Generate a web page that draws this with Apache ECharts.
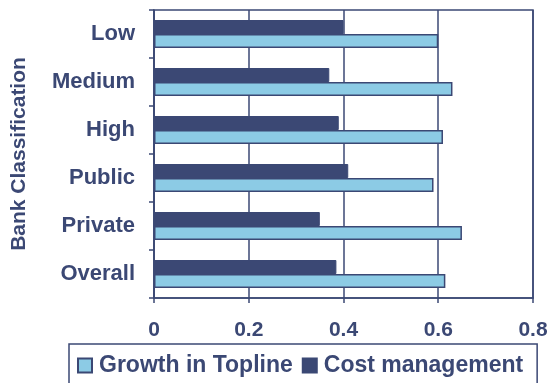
<!DOCTYPE html>
<html>
<head>
<meta charset="utf-8">
<script src="https://cdn.jsdelivr.net/npm/echarts@6/dist/echarts.min.js"></script>
<style>
  html, body { margin: 0; padding: 0; background: #ffffff; }
  #chart { width: 547px; height: 383px; }
</style>
</head>
<body>
<div id="chart"></div>
<script>
// Bank classification groups, top to bottom
const categories = ['Low', 'Medium', 'High', 'Public', 'Private', 'Overall'];
// Share of each driver per group
const growthTopline = [0.60, 0.63, 0.61, 0.59, 0.65, 0.615];
const costManagement = [0.40, 0.37, 0.39, 0.41, 0.35, 0.385];
// Value axis ticks
const xTicks = [0, 0.2, 0.4, 0.6, 0.8];

const NAVY = '#3b4874';
const SKY = '#8ccbe5';
const FONT = 'Arial, "Liberation Sans", sans-serif';

const chart = echarts.init(document.getElementById('chart'), null, { renderer: 'canvas' });

chart.setOption({
  backgroundColor: '#ffffff',
  animation: false,
  textStyle: { fontFamily: FONT, color: NAVY },
  grid: {
    left: 154, right: 14, top: 10, bottom: 85,
    outerBoundsMode: 'none',
    containLabel: false,
    show: true, borderColor: NAVY, borderWidth: 1.5
  },
  legend: {
    data: ['Growth in Topline', 'Cost management'],
    icon: 'rect',
    left: 69, top: 344,
    orient: 'horizontal',
    padding: [10, 14, 30, 8],
    itemGap: 9,
    itemWidth: 14, itemHeight: 14,
    borderColor: NAVY, borderWidth: 1.5,
    textStyle: { fontFamily: FONT, fontSize: 23, fontWeight: 'bold', color: NAVY, padding: [0, 0, 0, 2] }
  },
  xAxis: {
    type: 'value',
    min: xTicks[0],
    max: xTicks[xTicks.length - 1],
    interval: 0.2,
    axisLine: { show: true, lineStyle: { color: NAVY, width: 1.5 } },
    axisTick: { show: true, length: 5, lineStyle: { color: NAVY, width: 1.5 } },
    splitLine: { show: true, lineStyle: { color: NAVY, width: 1.5 } },
    axisLabel: {
      margin: 22, fontSize: 21, fontWeight: 'bold', color: NAVY, fontFamily: FONT,
      formatter: v => String(+v.toFixed(1))
    }
  },
  yAxis: {
    type: 'category',
    data: categories,
    inverse: true,
    name: 'Bank Classification',
    nameLocation: 'middle',
    nameRotate: 90,
    nameGap: 124,
    nameTextStyle: { fontSize: 21, fontWeight: 'bold', color: NAVY, fontFamily: FONT },
    axisLine: { show: true, lineStyle: { color: NAVY, width: 1.5 } },
    axisTick: { show: true, length: 5, lineStyle: { color: NAVY, width: 1.5 } },
    splitLine: { show: false },
    axisLabel: { margin: 19, fontSize: 22, fontWeight: 'bold', color: NAVY, fontFamily: FONT }
  },
  series: [
    {
      name: 'Cost management',
      type: 'bar',
      data: costManagement,
      barWidth: 14,
      barGap: '0%',
      itemStyle: { color: NAVY, borderColor: NAVY, borderWidth: 1 }
    },
    {
      name: 'Growth in Topline',
      type: 'bar',
      data: growthTopline,
      barWidth: 14,
      barGap: '0%',
      itemStyle: { color: SKY, borderColor: NAVY, borderWidth: 1.5 }
    }
  ]
});
</script>
</body>
</html>
